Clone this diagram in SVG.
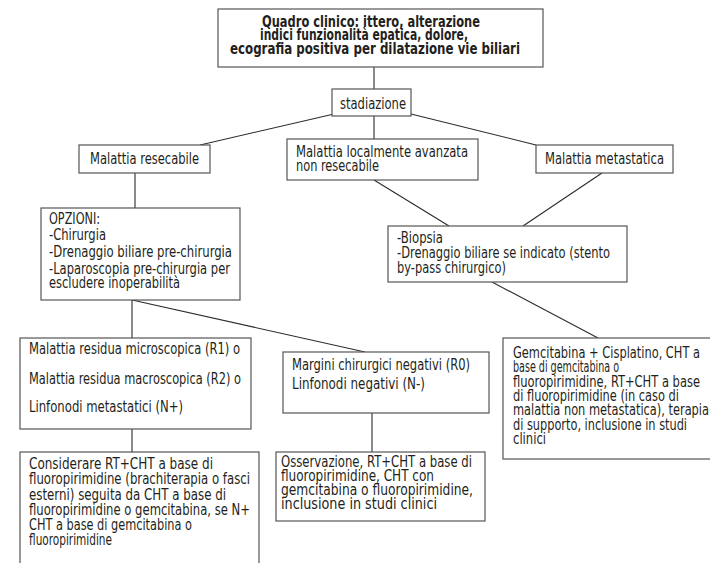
<svg xmlns="http://www.w3.org/2000/svg" width="710" height="563" viewBox="0 0 710 563">
  <style>
    .box { fill: #ffffff; stroke: #555555; stroke-width: 1.2; }
    .link { fill: none; stroke: #2b2b2b; stroke-width: 1.1; }
    text { font-family: "Liberation Sans Narrow", "DejaVu Sans Condensed", "Liberation Sans", sans-serif; font-size: 16px; fill: #231f20; }
    .title { font-weight: bold; font-size: 16px; }
  </style>
  <rect width="710" height="563" fill="#ffffff"/>

  <!-- connectors -->
  <g id="connectors">
    <line class="link" x1="374" y1="67" x2="374" y2="89"/>
    <line class="link" x1="334" y1="114" x2="200" y2="145"/>
    <line class="link" x1="374" y1="116" x2="374" y2="139"/>
    <line class="link" x1="411" y1="114" x2="536" y2="145"/>
    <line class="link" x1="135" y1="173" x2="135" y2="208"/>
    <line class="link" x1="374" y1="180" x2="449" y2="226"/>
    <line class="link" x1="602" y1="173" x2="523" y2="226"/>
    <line class="link" x1="132" y1="300" x2="132" y2="338"/>
    <line class="link" x1="132" y1="300" x2="365" y2="352"/>
    <line class="link" x1="492" y1="282" x2="598" y2="338"/>
    <line class="link" x1="132" y1="429" x2="132" y2="452"/>
    <line class="link" x1="372" y1="413" x2="372" y2="452"/>
  </g>

  <g id="quadro-clinico">
    <rect class="box" x="218" y="9" width="325" height="58"/>
    <text class="title" x="262" y="27" textLength="218" lengthAdjust="spacingAndGlyphs">Quadro clinico: ittero, alterazione</text>
    <text class="title" x="260" y="40" textLength="208" lengthAdjust="spacingAndGlyphs">indici funzionalità epatica, dolore,</text>
    <text class="title" x="230" y="54" textLength="290" lengthAdjust="spacingAndGlyphs">ecografia positiva per dilatazione vie biliari</text>
  </g>

  <g id="stadiazione">
    <rect class="box" x="332" y="89" width="79" height="27"/>
    <text x="340" y="109" textLength="66" lengthAdjust="spacingAndGlyphs">stadiazione</text>
  </g>

  <g id="resecabile">
    <rect class="box" x="79" y="145" width="131" height="28"/>
    <text x="90" y="164" textLength="109" lengthAdjust="spacingAndGlyphs">Malattia resecabile</text>
  </g>

  <g id="localmente-avanzata">
    <rect class="box" x="287" y="139" width="191" height="41"/>
    <text x="296" y="157" textLength="172" lengthAdjust="spacingAndGlyphs">Malattia localmente avanzata</text>
    <text x="296" y="171" textLength="83" lengthAdjust="spacingAndGlyphs">non resecabile</text>
  </g>

  <g id="metastatica">
    <rect class="box" x="536" y="145" width="137" height="28"/>
    <text x="545" y="164" textLength="119" lengthAdjust="spacingAndGlyphs">Malattia metastatica</text>
  </g>

  <g id="opzioni">
    <rect class="box" x="41" y="208" width="199" height="92"/>
    <text x="49" y="224" textLength="51" lengthAdjust="spacingAndGlyphs">OPZIONI:</text>
    <text x="49" y="240" textLength="57" lengthAdjust="spacingAndGlyphs">-Chirurgia</text>
    <text x="49" y="257" textLength="183" lengthAdjust="spacingAndGlyphs">-Drenaggio biliare pre-chirurgia</text>
    <text x="49" y="274" textLength="181" lengthAdjust="spacingAndGlyphs">-Laparoscopia pre-chirurgia per</text>
    <text x="49" y="288" textLength="131" lengthAdjust="spacingAndGlyphs">escludere inoperabilità</text>
  </g>

  <g id="biopsia">
    <rect class="box" x="388" y="226" width="239" height="56"/>
    <text x="397" y="243" textLength="46" lengthAdjust="spacingAndGlyphs">-Biopsia</text>
    <text x="397" y="258" textLength="213" lengthAdjust="spacingAndGlyphs">-Drenaggio biliare se indicato (stento</text>
    <text x="397" y="273" textLength="109" lengthAdjust="spacingAndGlyphs">by-pass chirurgico)</text>
  </g>

  <g id="residua">
    <rect class="box" x="20" y="338" width="231" height="91"/>
    <text x="29" y="354" textLength="211" lengthAdjust="spacingAndGlyphs">Malattia residua microscopica (R1) o</text>
    <text x="29" y="384" textLength="212" lengthAdjust="spacingAndGlyphs">Malattia residua macroscopica (R2) o</text>
    <text x="29" y="412" textLength="154" lengthAdjust="spacingAndGlyphs">Linfonodi metastatici (N+)</text>
  </g>

  <g id="margini">
    <rect class="box" x="283" y="352" width="206" height="61"/>
    <text x="292" y="370" textLength="178" lengthAdjust="spacingAndGlyphs">Margini chirurgici negativi (R0)</text>
    <text x="292" y="389" textLength="133" lengthAdjust="spacingAndGlyphs">Linfonodi negativi (N-)</text>
  </g>

  <g id="gemcitabina">
    <rect class="box" x="503" y="338" width="212" height="121"/>
    <text x="513" y="358" textLength="187" lengthAdjust="spacingAndGlyphs">Gemcitabina + Cisplatino, CHT a</text>
    <text x="513" y="372" textLength="106" lengthAdjust="spacingAndGlyphs">base di gemcitabina o</text>
    <text x="513" y="387" textLength="187" lengthAdjust="spacingAndGlyphs">fluoropirimidine, RT+CHT a base</text>
    <text x="513" y="401" textLength="166" lengthAdjust="spacingAndGlyphs">di fluoropirimidine (in caso di</text>
    <text x="513" y="415" textLength="196" lengthAdjust="spacingAndGlyphs">malattia non metastatica), terapia</text>
    <text x="513" y="430" textLength="174" lengthAdjust="spacingAndGlyphs">di supporto, inclusione in studi</text>
    <text x="513" y="444" textLength="33" lengthAdjust="spacingAndGlyphs">clinici</text>
  </g>

  <g id="considerare">
    <rect class="box" x="20" y="452" width="239" height="120"/>
    <text x="29" y="469" textLength="184" lengthAdjust="spacingAndGlyphs">Considerare RT+CHT a base di</text>
    <text x="29" y="484" textLength="221" lengthAdjust="spacingAndGlyphs">fluoropirimidine (brachiterapia o fasci</text>
    <text x="29" y="500" textLength="197" lengthAdjust="spacingAndGlyphs">esterni) seguita da CHT a base di</text>
    <text x="29" y="515" textLength="221" lengthAdjust="spacingAndGlyphs">fluoropirimidine o gemcitabina, se N+</text>
    <text x="29" y="530" textLength="163" lengthAdjust="spacingAndGlyphs">CHT a base di gemcitabina o</text>
    <text x="29" y="545" textLength="83" lengthAdjust="spacingAndGlyphs">fluoropirimidine</text>
  </g>

  <g id="osservazione">
    <rect class="box" x="276" y="452" width="209" height="69"/>
    <text x="281" y="467" textLength="191" lengthAdjust="spacingAndGlyphs">Osservazione, RT+CHT a base di</text>
    <text x="281" y="481" textLength="153" lengthAdjust="spacingAndGlyphs">fluoropirimidine, CHT con</text>
    <text x="281" y="495" textLength="192" lengthAdjust="spacingAndGlyphs">gemcitabina o  fluoropirimidine,</text>
    <text x="281" y="509" textLength="156" lengthAdjust="spacingAndGlyphs">inclusione in studi clinici</text>
  </g>
</svg>
